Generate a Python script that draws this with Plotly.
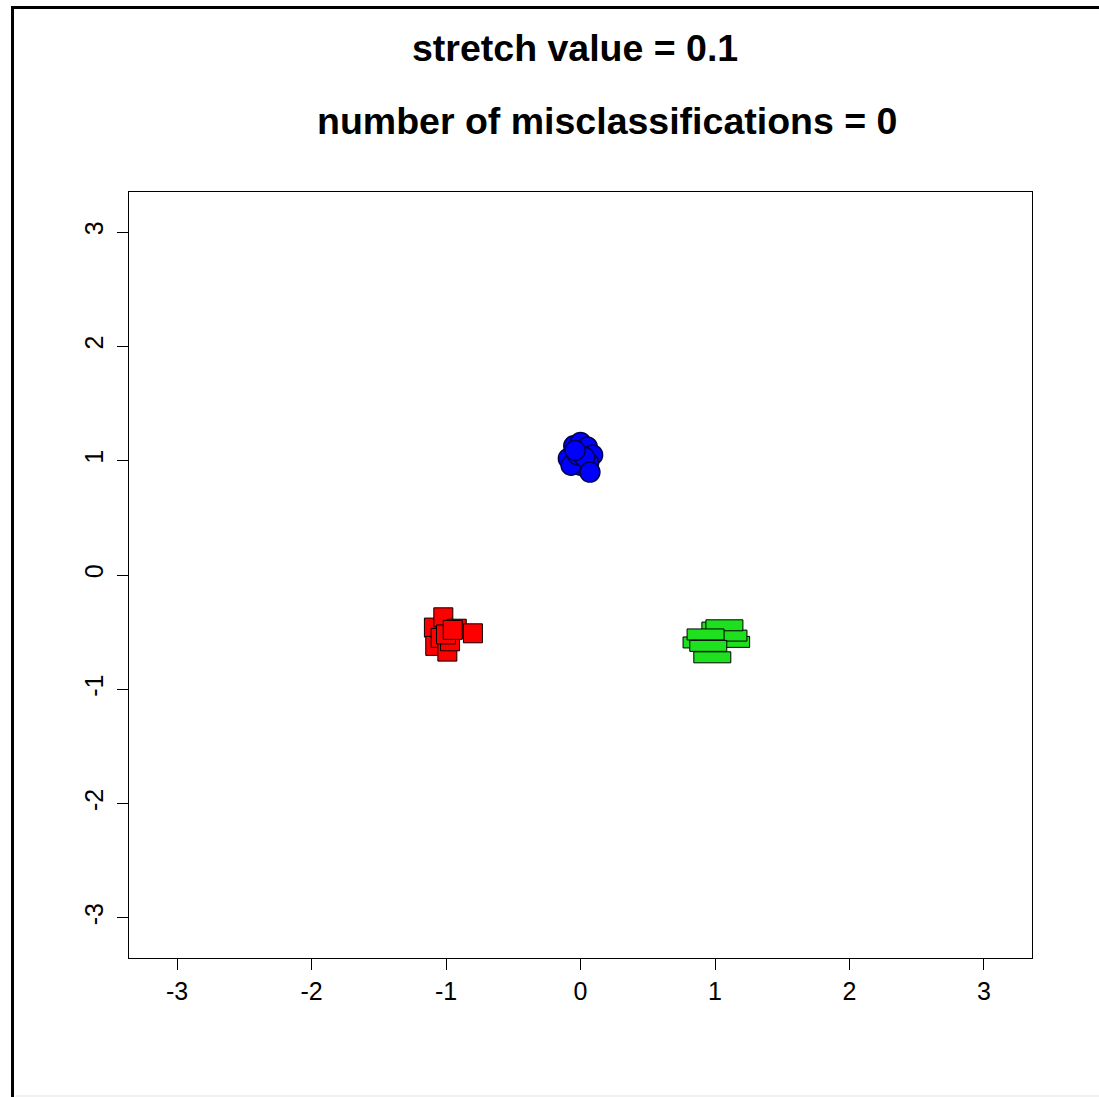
import plotly.graph_objects as go

# Class 1: red squares
red_x = [-1.09, -1.08, -1.04, -1.02, -0.99, -0.97, -0.92, -1.00, -0.95, -0.80]
red_y = [-0.46, -0.62, -0.55, -0.37, -0.67, -0.58, -0.47, -0.52, -0.48, -0.51]

# Class 2: blue circles
blue_x = [-0.09, -0.05, 0.00, 0.05, 0.09, 0.06, 0.00, -0.07, -0.02, 0.03, -0.04, 0.07]
blue_y = [1.02, 1.13, 1.16, 1.12, 1.05, 0.98, 0.96, 0.96, 1.05, 1.03, 1.09, 0.90]

# Class 3: green rectangles
green_x = [0.90, 1.12, 1.04, 1.10, 1.07, 0.93, 0.95, 0.98]
green_y = [-0.59, -0.585, -0.46, -0.53, -0.44, -0.52, -0.62, -0.72]

tick_vals = [-3, -2, -1, 0, 1, 2, 3]
tick_text = ["-3", "-2", "-1", "0", "1", "2", "3"]

stretch_value = 0.1
n_misclassified = 0

fig = go.Figure()

fig.add_trace(go.Scatter(
    x=red_x, y=red_y, mode="markers",
    marker=dict(symbol="square", size=19, color="#FF0000",
                line=dict(color="#000000", width=1)),
    hoverinfo="x+y", showlegend=False,
))

fig.add_trace(go.Scatter(
    x=blue_x, y=blue_y, mode="markers",
    marker=dict(symbol="circle", size=20, color="#0000FF",
                line=dict(color="#00004A", width=1.5)),
    hoverinfo="x+y", showlegend=False,
))

# rectangles anchored at each green point, fixed pixel size
rect_w, rect_h = 37, 11
shapes = []
for gx, gy in zip(green_x, green_y):
    shapes.append(dict(
        type="rect", xref="x", yref="y",
        xsizemode="pixel", ysizemode="pixel",
        xanchor=gx, yanchor=gy,
        x0=-rect_w / 2, x1=rect_w / 2, y0=-rect_h / 2, y1=rect_h / 2,
        fillcolor="#1EE01E", line=dict(color="#000000", width=1),
        layer="above",
    ))

# outer device frame
shapes.append(dict(
    type="rect", xref="paper", yref="paper",
    x0=-0.129, x1=1.09, y0=-0.20, y1=1.2409,
    line=dict(color="#000000", width=3), fillcolor="rgba(0,0,0,0)",
    layer="below",
))
shapes.append(dict(
    type="line", xref="paper", yref="paper",
    x0=-0.126, x1=1.08, y0=-0.1802, y1=-0.1802,
    line=dict(color="#E4E4E4", width=1),
))

title_font = dict(family="Liberation Sans, Arial, sans-serif", size=37.5, color="#000000")
annotations = [
    dict(text="<b>stretch value = %g</b>" % stretch_value,
         xref="paper", yref="paper", x=0.4934, y=1.188,
         xanchor="center", yanchor="middle", showarrow=False, font=title_font),
    dict(text="<b>number of misclassifications = %d</b>" % n_misclassified,
         xref="paper", yref="paper", x=0.5293, y=1.0927,
         xanchor="center", yanchor="middle", showarrow=False, font=title_font),
]

axis_common = dict(
    tickvals=tick_vals, ticktext=tick_text,
    showgrid=False, zeroline=False,
    showline=True, linecolor="#000000", linewidth=1, mirror=True,
    ticks="outside", ticklen=11, tickwidth=1, tickcolor="#000000",
    tickfont=dict(family="Liberation Sans, Arial, sans-serif", size=25, color="#000000"),
)

fig.update_layout(
    width=1099, height=1097,
    margin=dict(l=129, r=67, t=192, b=139),
    paper_bgcolor="#FFFFFF", plot_bgcolor="#FFFFFF",
    xaxis=dict(range=[-3.357, 3.357], **axis_common),
    yaxis=dict(range=[-3.35, 3.35], tickangle=-90, ticklabelstandoff=4, **axis_common),
    shapes=shapes, annotations=annotations,
    showlegend=False,
)

fig.write_html("out.html")
